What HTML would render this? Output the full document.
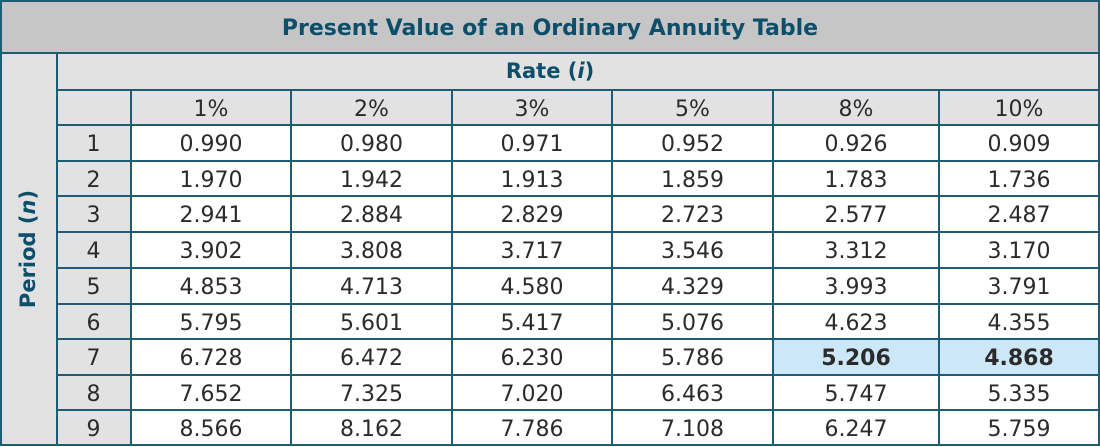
<!DOCTYPE html>
<html>
<head>
<meta charset="utf-8">
<style>
  html, body { margin:0; padding:0; }
  body { width:1100px; height:446px; position:relative; overflow:hidden; background:#ffffff;
         font-family:"DejaVu Sans","Liberation Sans",sans-serif; }
  .bg { position:absolute; }
  .ln { position:absolute; background:#1e5b75; }
  .h { height:2px; }
  .v { width:2px; }
  .row { position:absolute; left:0; width:1100px; }
  .c { position:absolute; top:0; text-align:center; font-size:22px; color:#2b2b2b; padding-top:2px; box-sizing:border-box; }
  .l  { left:57px;  width:73px; }
  .c1 { left:131px; width:160px; }
  .c2 { left:292px; width:159px; }
  .c3 { left:452px; width:160px; }
  .c4 { left:613px; width:159px; }
  .c5 { left:773px; width:166px; }
  .c6 { left:940px; width:158px; }
  .b { font-weight:bold; }
  .teal { color:#0d4f6b; font-weight:bold; }
</style>
</head>
<body>
  <!-- backgrounds -->
  <div class="bg" style="left:0;top:0;width:1100px;height:53px;background:#c6c6c6;"></div>
  <div class="bg" style="left:0;top:53px;width:56px;height:393px;background:#e1e1e1;"></div>
  <div class="bg" style="left:56px;top:53px;width:1044px;height:37px;background:#e2e2e2;"></div>
  <div class="bg" style="left:56px;top:90px;width:1044px;height:35px;background:#e2e2e2;"></div>
  <div class="bg" style="left:56px;top:125px;width:75px;height:321px;background:#e2e2e2;"></div>
  <div class="bg" style="left:772px;top:339px;width:327px;height:36px;background:#cce7f7;"></div>

  <!-- title -->
  <div class="teal" style="position:absolute;left:0;top:0;width:1100px;height:53px;line-height:53px;text-align:center;font-size:22px;padding-top:2px;box-sizing:border-box;">Present Value of an Ordinary Annuity Table</div>
  <!-- rate -->
  <div class="teal" style="position:absolute;left:0;top:53px;width:1100px;height:37px;line-height:37px;text-align:center;font-size:21px;">Rate (<i>i</i>)</div>
  <!-- period -->
  <div class="teal" style="position:absolute;left:28px;top:249px;font-size:21px;white-space:nowrap;transform:translate(-50%,-50%) rotate(-90deg);">Period (<i>n</i>)</div>

  <!-- header row -->
  <div class="row" style="top:90px;height:35px;line-height:35px;">
    <div class="c c1">1%</div><div class="c c2">2%</div><div class="c c3">3%</div>
    <div class="c c4">5%</div><div class="c c5">8%</div><div class="c c6">10%</div>
  </div>

  <div class="row" style="top:125px;height:36px;line-height:36px;">
    <div class="c l">1</div><div class="c c1">0.990</div><div class="c c2">0.980</div><div class="c c3">0.971</div><div class="c c4">0.952</div><div class="c c5">0.926</div><div class="c c6">0.909</div>
  </div>
  <div class="row" style="top:161px;height:35px;line-height:35px;">
    <div class="c l">2</div><div class="c c1">1.970</div><div class="c c2">1.942</div><div class="c c3">1.913</div><div class="c c4">1.859</div><div class="c c5">1.783</div><div class="c c6">1.736</div>
  </div>
  <div class="row" style="top:196px;height:36px;line-height:36px;">
    <div class="c l">3</div><div class="c c1">2.941</div><div class="c c2">2.884</div><div class="c c3">2.829</div><div class="c c4">2.723</div><div class="c c5">2.577</div><div class="c c6">2.487</div>
  </div>
  <div class="row" style="top:232px;height:36px;line-height:36px;">
    <div class="c l">4</div><div class="c c1">3.902</div><div class="c c2">3.808</div><div class="c c3">3.717</div><div class="c c4">3.546</div><div class="c c5">3.312</div><div class="c c6">3.170</div>
  </div>
  <div class="row" style="top:268px;height:36px;line-height:36px;">
    <div class="c l">5</div><div class="c c1">4.853</div><div class="c c2">4.713</div><div class="c c3">4.580</div><div class="c c4">4.329</div><div class="c c5">3.993</div><div class="c c6">3.791</div>
  </div>
  <div class="row" style="top:304px;height:35px;line-height:35px;">
    <div class="c l">6</div><div class="c c1">5.795</div><div class="c c2">5.601</div><div class="c c3">5.417</div><div class="c c4">5.076</div><div class="c c5">4.623</div><div class="c c6">4.355</div>
  </div>
  <div class="row" style="top:339px;height:36px;line-height:36px;">
    <div class="c l">7</div><div class="c c1">6.728</div><div class="c c2">6.472</div><div class="c c3">6.230</div><div class="c c4">5.786</div><div class="c c5 b">5.206</div><div class="c c6 b">4.868</div>
  </div>
  <div class="row" style="top:375px;height:35px;line-height:35px;">
    <div class="c l">8</div><div class="c c1">7.652</div><div class="c c2">7.325</div><div class="c c3">7.020</div><div class="c c4">6.463</div><div class="c c5">5.747</div><div class="c c6">5.335</div>
  </div>
  <div class="row" style="top:410px;height:35px;line-height:35px;">
    <div class="c l">9</div><div class="c c1">8.566</div><div class="c c2">8.162</div><div class="c c3">7.786</div><div class="c c4">7.108</div><div class="c c5">6.247</div><div class="c c6">5.759</div>
  </div>

  <!-- horizontal lines -->
  <div class="ln h" style="left:0;top:0;width:1100px;"></div>
  <div class="ln h" style="left:0;top:52px;width:1100px;"></div>
  <div class="ln h" style="left:56px;top:89px;width:1044px;"></div>
  <div class="ln h" style="left:56px;top:124px;width:1044px;"></div>
  <div class="ln h" style="left:56px;top:160px;width:1044px;"></div>
  <div class="ln h" style="left:56px;top:195px;width:1044px;"></div>
  <div class="ln h" style="left:56px;top:231px;width:1044px;"></div>
  <div class="ln h" style="left:56px;top:267px;width:1044px;"></div>
  <div class="ln h" style="left:56px;top:303px;width:1044px;"></div>
  <div class="ln h" style="left:56px;top:338px;width:1044px;"></div>
  <div class="ln h" style="left:56px;top:374px;width:1044px;"></div>
  <div class="ln h" style="left:56px;top:409px;width:1044px;"></div>
  <div class="ln h" style="left:0;top:444px;width:1100px;"></div>

  <!-- vertical lines -->
  <div class="ln v" style="left:0;top:0;height:446px;"></div>
  <div class="ln v" style="left:56px;top:52px;height:394px;"></div>
  <div class="ln v" style="left:130px;top:89px;height:357px;"></div>
  <div class="ln v" style="left:290px;top:89px;height:357px;"></div>
  <div class="ln v" style="left:451px;top:89px;height:357px;"></div>
  <div class="ln v" style="left:611px;top:89px;height:357px;"></div>
  <div class="ln v" style="left:772px;top:89px;height:357px;"></div>
  <div class="ln v" style="left:938px;top:89px;height:357px;"></div>
  <div class="ln v" style="left:1098px;top:0;height:446px;"></div>
</body>
</html>
